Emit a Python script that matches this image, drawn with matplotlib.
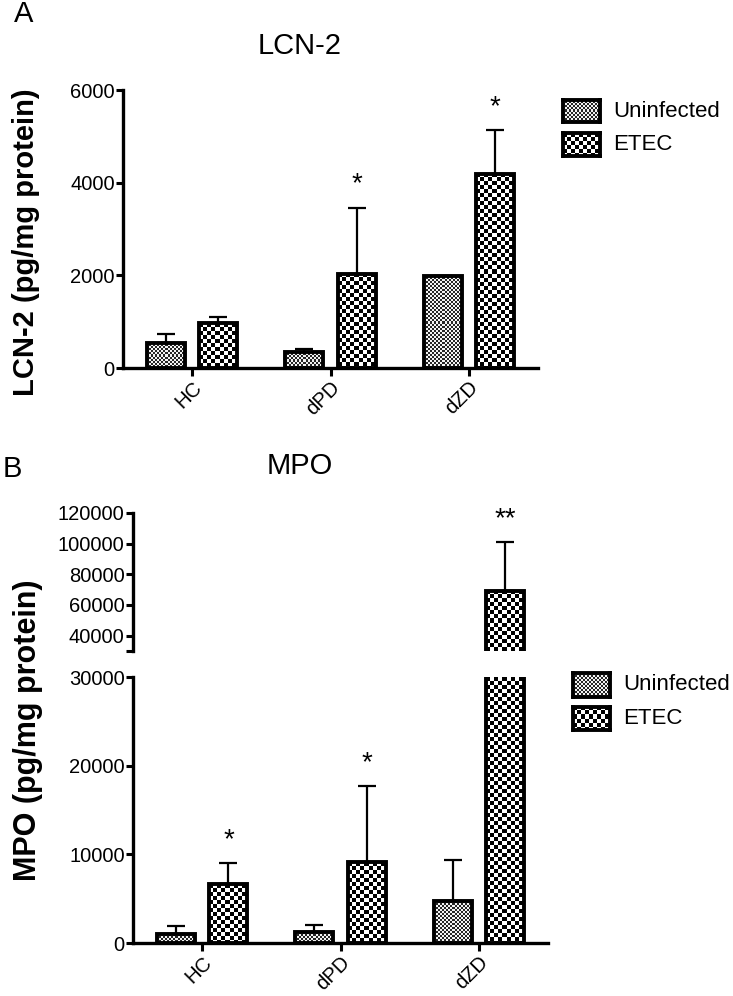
import numpy as np, matplotlib
matplotlib.use("Agg"); import matplotlib.pyplot as plt

plt.rcParams['font.family'] = ['Liberation Sans', 'DejaVu Sans']

cats = ["HC", "dPD", "dZD"]
groups = ["Uninfected", "ETEC"]
# LCN-2 (pg/mg protein), mean and upper SEM
lcn_unin = [540, 350, 1990]
lcn_unin_err = [190, 60, 0]
lcn_etec = [970, 2030, 4190]
lcn_etec_err = [130, 1430, 950]
lcn_stars = ["", "*", "*"]
# MPO (pg/mg protein)
mpo_unin = [1000, 1240, 4730]
mpo_unin_err = [900, 790, 4620]
mpo_etec = [6650, 9130, 69200]
mpo_etec_err = [2350, 8570, 31900]
mpo_stars = ["*", "*", "**"]

W, H = 733, 996
fig = plt.figure(figsize=(W/100, H/100), dpi=100)

def rect(x0, y0, x1, y1):
    return [x0/W, 1-y1/H, (x1-x0)/W, (y1-y0)/H]

def checker(h, w, c, lo=0.0, hi=1.0):
    i, j = np.indices((max(int(round(h)), 1), max(int(round(w)), 1)))
    return np.where((i//c + j//c) % 2 == 0, lo, hi)

FINE = (2, 0.15, 0.95)   # cell px, dark, light
COARSE = (4, 0.0, 1.0)
bw, off = 0.275, 0.19
LW = 2.8

def fill_bar(ax, xc, y0, y1, pat):
    lo, hi = ax.get_ylim()
    a, b = max(y0, lo), min(y1, hi)
    if b <= a: return
    p0 = ax.transData.transform((xc-bw/2, a)); p1 = ax.transData.transform((xc+bw/2, b))
    img = checker(p1[1]-p0[1], p1[0]-p0[0], *pat)
    ax.imshow(img, cmap='gray', vmin=0, vmax=1, extent=(xc-bw/2, xc+bw/2, a, b),
              aspect='auto', interpolation='nearest', zorder=2)

def draw_bars(ax, unin, unin_err, etec, etec_err):
    x = np.arange(len(cats))
    ax.set_autoscale_on(False)
    for xs, v, e, pat in [(x-off, unin, unin_err, FINE), (x+off, etec, etec_err, COARSE)]:
        for xi, vi in zip(xs, v):
            fill_bar(ax, xi, 0, vi, pat)
        ax.bar(xs, v, bw, facecolor='none', edgecolor='k', linewidth=LW, zorder=3)
        ax.errorbar(xs, v, yerr=[np.zeros(len(v)), e], fmt='none', ecolor='k',
                    elinewidth=1.6, capsize=6.5, capthick=1.6, zorder=4)

def stars(ax, vals, errs, labels):
    for i, (v, e, s) in enumerate(zip(vals, errs, labels)):
        if s:
            ax.annotate(s, (i+off, v+e), xytext=(0, 16), textcoords='offset pixels',
                        ha='center', va='baseline', fontsize=20, annotation_clip=False)

def style(ax):
    for s in ['top', 'right']: ax.spines[s].set_visible(False)
    for s in ['left', 'bottom']: ax.spines[s].set_linewidth(2.4)
    ax.tick_params(direction='out', length=5, width=2.2, labelsize=14.5, pad=1)
    ax.set_xlim(-0.5, 2.5)

def xlabels(ax):
    ax.set_xticks(range(len(cats)))
    ax.set_xticklabels(cats, rotation=45, ha='right', va='top', rotation_mode='anchor')
    ax.tick_params(axis='x', length=6)

# ---- panel A
axA = fig.add_axes(rect(123, 90, 538, 368))
style(axA); axA.set_ylim(0, 6000); axA.set_yticks([0, 2000, 4000, 6000])
xlabels(axA)
draw_bars(axA, lcn_unin, lcn_unin_err, lcn_etec, lcn_etec_err)
stars(axA, lcn_etec, lcn_etec_err, lcn_stars)

# ---- panel B (broken axis)
axL = fig.add_axes(rect(133, 677, 548, 943))
style(axL); axL.set_ylim(0, 30000); axL.set_yticks([0, 10000, 20000, 30000])
xlabels(axL)
axU = fig.add_axes(rect(133, 513, 548, 651))
style(axU); axU.set_ylim(30000, 120000)
axU.spines['bottom'].set_visible(False)
axU.set_xticks([])
axU.set_yticks(range(30000, 120001, 20000) if False else [30000, 40000, 60000, 80000, 100000, 120000])
axU.set_yticklabels([''] + [str(v) for v in [40000, 60000, 80000, 100000, 120000]])
for ax in (axL, axU):
    draw_bars(ax, mpo_unin, mpo_unin_err, mpo_etec, mpo_etec_err)
stars(axL, mpo_etec[:2], mpo_etec_err[:2], mpo_stars[:2])
stars(axU, mpo_etec, mpo_etec_err, ["", "", mpo_stars[2]])

# ---- legends (drawn as small boxes)
def legend(boxes, tx):
    for (x0, y0, x1, y1), pat, lab in zip(boxes, [FINE, COARSE], groups):
        lax = fig.add_axes(rect(x0, y0, x1, y1))
        lax.imshow(checker(y1-y0, x1-x0, *pat), cmap='gray', vmin=0, vmax=1,
                   aspect='auto', interpolation='nearest')
        lax.set_xticks([]); lax.set_yticks([])
        for s in lax.spines.values(): s.set_linewidth(LW)
        fig.text(tx/W, 1-(y0+y1)/2/H, lab, va='center', ha='left', fontsize=16)

legend([(563, 100, 600, 122), (563, 133, 600, 156)], 613)
legend([(573, 673, 610, 697), (573, 707, 610, 730)], 623)

# ---- titles and labels
fig.text(24/W, 1-14/H, "A", ha='center', va='center', fontsize=21)
fig.text(12/W, 1-469/H, "B", ha='center', va='center', fontsize=21)
fig.text(300/W, 1-46/H, "LCN-2", ha='center', va='center', fontsize=21)
fig.text(300/W, 1-466/H, "MPO", ha='center', va='center', fontsize=21)
fig.text(26/W, 1-242/H, "LCN-2 (pg/mg protein)", rotation=90, ha='center', va='center',
         fontsize=21, fontweight='bold')
fig.text(28/W, 1-730/H, "MPO (pg/mg protein)", rotation=90, ha='center', va='center',
         fontsize=22, fontweight='bold')

fig.savefig("out.png", dpi=100)
